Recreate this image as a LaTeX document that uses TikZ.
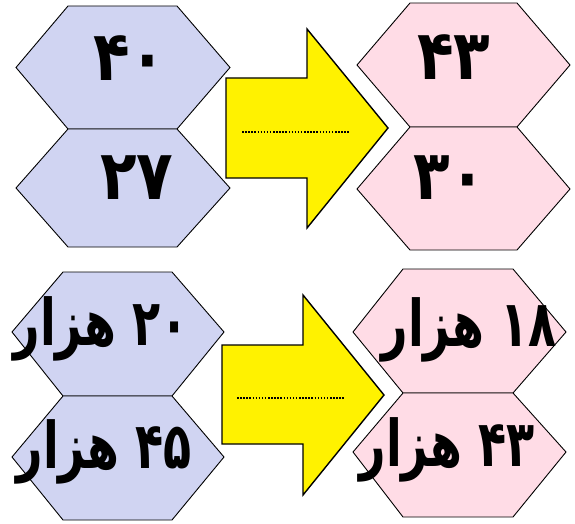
\documentclass[tikz,border=0pt]{standalone}
\usepackage{fontspec}
\TeXXeTstate=1
\newfontfamily\arabicfont[Script=Arabic]{DejaVu Sans}
\begin{document}
\begin{tikzpicture}[x=1pt,y=-1pt,
  hexblue/.style={draw=black,line width=0.9pt,fill={rgb,255:red,208;green,212;blue,242}},
  hexpink/.style={draw=black,line width=0.9pt,fill={rgb,255:red,255;green,220;blue,230}},
  blockarrow/.style={draw=black,line width=1.4pt,fill={rgb,255:red,255;green,242;blue,0}},
  dotline/.style={draw=black,line width=1.5pt,dash pattern=on 1.5pt off 1.6pt},
  numtxt/.style={font=\arabicfont\bfseries\fontsize{60}{64}\selectfont,inner sep=0pt,transform shape,yscale=1.15},
  numtxtb/.style={font=\arabicfont\bfseries\fontsize{46}{50}\selectfont,inner sep=0pt,transform shape,yscale=1.4}]
\useasboundingbox (0,0) rectangle (575,524);
% top left
\draw[hexblue] (16,67.5)--(68,6)--(177,6)--(230,67.5)--(177,129)--(68,129)--cycle;
\draw[hexblue] (16,188)--(68,129)--(177,129)--(230,188)--(177,247)--(68,247)--cycle;
% top right
\draw[hexpink] (357,65)--(410,3)--(517,3)--(570,65)--(517,127)--(410,127)--cycle;
\draw[hexpink] (357,189)--(410,127)--(517,127)--(570,189)--(517,250)--(410,250)--cycle;
% bottom left
\draw[hexblue] (12,332)--(63,272)--(172,272)--(224,332)--(172,396)--(63,396)--cycle;
\draw[hexblue] (12,457)--(63,396)--(172,396)--(224,457)--(172,520)--(63,520)--cycle;
% bottom right
\draw[hexpink] (353,332)--(403,269)--(513,269)--(566,332)--(513,393)--(403,393)--cycle;
\draw[hexpink] (353,452)--(403,393)--(513,393)--(566,452)--(513,517)--(403,517)--cycle;
% arrows
\draw[blockarrow] (226,78)--(307,78)--(307,29)--(388,128)--(307,228)--(307,178)--(226,178)--cycle;
\coordinate (d1a) at (242,132); \coordinate (d1b) at (349,132);
\draw[dotline] (d1a)--(d1b);
\draw[blockarrow] (222,345)--(303,345)--(303,295)--(384,395)--(303,495)--(303,444)--(222,444)--cycle;
\coordinate (d2a) at (237,398); \coordinate (d2b) at (344,398);
\draw[dotline] (d2a)--(d2b);
% texts
\node[numtxt] (t1) at (130,58) {\beginR ۴۰\endR};
\node[numtxt] (t2) at (137,178) {\beginR ۲۷\endR};
\node[numtxt] (t3) at (454,57) {\beginR ۴۳\endR};
\node[numtxt] (t4) at (450,178) {\beginR ۳۰\endR};
\node[numtxtb] (t5) at (101,329) {\beginR ۲۰ هزار\endR};
\node[numtxtb] (t6) at (104,452) {\beginR ۴۵ هزار\endR};
\node[numtxtb] (t7) at (469,330) {\beginR ۱۸ هزار\endR};
\node[numtxtb] (t8) at (447,450) {\beginR ۴۳ هزار\endR};
\end{tikzpicture}
\end{document}
